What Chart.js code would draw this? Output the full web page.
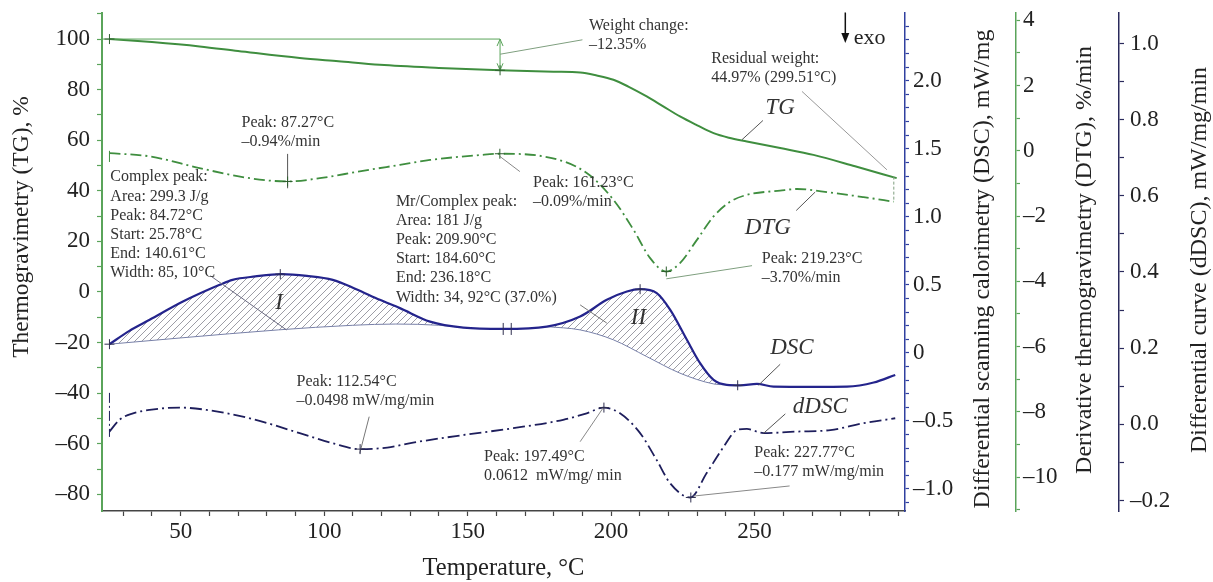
<!DOCTYPE html>
<html><head><meta charset="utf-8">
<script src="https://cdn.jsdelivr.net/npm/chart.js@4.4.1/dist/chart.umd.min.js"></script>
<style>html,body{margin:0;padding:0;background:#fff}#wrap{width:1213px;height:582px;position:relative}</style>
</head><body><div id="wrap"><canvas id="c"></canvas></div>
<script>
// ---- data ----
const tgT = [25.2, 40, 56.6, 70, 91.5, 105, 119.4, 140, 161.3, 180, 189.2, 195, 200.8, 206, 212.4, 218, 224, 230, 235.7, 241, 247.3, 258.9, 270.5, 285, 299.5];
const tgV = [100.0, 98.8, 97.1, 95.3, 92.5, 91.2, 89.8, 88.6, 87.65, 87.1, 86.8, 85.6, 83.9, 81.2, 77.3, 73.5, 69.4, 65.9, 62.8, 61.0, 59.5, 56.9, 54.2, 49.7, 45.0];

const dtgT = [25.2, 39.2, 56.6, 74.1, 87.3, 98.5, 112.4, 126.4, 136.9, 154.3, 161.2, 177.6, 191.5, 200.8, 207.8, 213.6, 219.2, 224.0, 229.9, 235.7, 241.5, 247.3, 258.9, 264.8, 276.4, 288.0, 298.5];
const dtgV = [-0.07, -0.17, -0.53, -0.84, -0.94, -0.84, -0.63, -0.43, -0.28, -0.13, -0.09, -0.19, -0.68, -1.50, -2.42, -3.29, -3.70, -3.44, -2.73, -2.01, -1.56, -1.35, -1.22, -1.17, -1.28, -1.42, -1.56];

const dscT = [25.2, 32, 39.2, 50.8, 63.6, 68.1, 76, 85.1, 94, 103.0, 111, 119.4, 126.4, 136.9, 148.5, 162.4, 177.6, 189.2, 198.5, 205.5, 210.1, 215.9, 220.6, 226.4, 231.0, 235.7, 240.3, 245.0, 250.8, 256.6, 270.5, 282.2, 291.5, 299.0];
const dscV = [0.064, 0.16, 0.243, 0.377, 0.500, 0.537, 0.562, 0.579, 0.566, 0.537, 0.47, 0.390, 0.329, 0.230, 0.186, 0.176, 0.193, 0.267, 0.390, 0.451, 0.468, 0.439, 0.316, 0.096, -0.076, -0.199, -0.235, -0.238, -0.228, -0.248, -0.250, -0.248, -0.218, -0.162];

const base1T = [25.2, 50, 84, 110, 125, 140, 148.5];
const base1V = [0.064, 0.11, 0.169, 0.203, 0.212, 0.203, 0.186];
const base2T = [177.6, 189.2, 200.8, 212.4, 224.0, 235.7, 240.3];
const base2V = [0.193, 0.169, 0.096, -0.027, -0.149, -0.228, -0.235];

const ddscT = [25.2, 28.7, 33.4, 39.2, 49.7, 59.0, 74.1, 91.5, 103.1, 112.4, 122, 131.0, 148.5, 165.9, 183.3, 191.5, 197.4, 203.1, 210.1, 215.9, 220.6, 227.6, 233.3, 239.2, 243.8, 247.3, 253.1, 264.8, 276.4, 288.0, 299.0];
const ddscV = [-0.019, 0.012, 0.029, 0.038, 0.044, 0.038, 0.016, -0.023, -0.050, -0.065, -0.061, -0.048, -0.028, -0.010, 0.012, 0.029, 0.044, 0.029, -0.023, -0.094, -0.155, -0.192, -0.128, -0.059, -0.015, -0.012, -0.023, -0.019, -0.015, 0.003, 0.016];

const xTicksLabelled = [50, 100, 150, 200, 250];

// ---- helpers ----
const serif = '"Liberation Serif","Times New Roman",serif';
const pts = (T, V) => T.map((t, i) => ({x: t, y: V[i]}));
const dash = s => String(s).replace('-', '\u2013');
const near = (v, step) => Math.abs(v / step - Math.round(v / step)) < 1e-6;

const cvs = document.getElementById('c');
function hatch() {
  const c = document.createElement('canvas'); c.width = 7; c.height = 7;
  const g = c.getContext('2d'); g.strokeStyle = '#72727f'; g.lineWidth = 0.7;
  g.beginPath(); g.moveTo(0, 7); g.lineTo(7, 0); g.moveTo(-1, 1); g.lineTo(1, -1); g.moveTo(6, 8); g.lineTo(8, 6); g.stroke();
  return cvs.getContext('2d').createPattern(c, 'repeat');
}
const pat = hatch();

const green = '#3f8e3f', axisGreen = '#5aa45a', navy = '#24248c', dnavy = '#1e1e5c';

// ---- annotations (positions in data units: x = °C, y = TG axis %) ----
const notes = [
  {T: 192.3, G: 105.3, lines: ['Weight change:', '\u201312.35%']},
  {T: 234.9, G: 92.3, lines: ['Residual weight:', '44.97% (299.51°C)']},
  {T: 71.2, G: 67.0, lines: ['Peak: 87.27°C', '\u20130.94%/min']},
  {T: 25.5, G: 45.4, lines: ['Complex peak:', 'Area: 299.3 J/g', 'Peak: 84.72°C', 'Start: 25.78°C', 'End: 140.61°C', 'Width: 85, 10°C']},
  {T: 172.8, G: 43.3, lines: ['Peak: 161.23°C', '\u20130.09%/min']},
  {T: 125.0, G: 35.8, lines: ['Mr/Complex peak:', 'Area: 181 J/g', 'Peak: 209.90°C', 'Start: 184.60°C', 'End: 236.18°C', 'Width: 34, 92°C (37.0%)']},
  {T: 252.5, G: 13.1, lines: ['Peak: 219.23°C', '\u20133.70%/min']},
  {T: 90.4, G: -35.4, lines: ['Peak: 112.54°C', '\u20130.0498 mW/mg/min']},
  {T: 155.7, G: -65.1, lines: ['Peak: 197.49°C', '0.0612  mW/mg/ min']},
  {T: 249.9, G: -63.5, lines: ['Peak: 227.77°C', '\u20130.177 mW/mg/min']}
];
const italics = [
  {T: 258.9, G: 72.7, text: 'TG'}, {T: 254.6, G: 25.2, text: 'DTG'},
  {T: 263.0, G: -22.2, text: 'DSC'}, {T: 272.9, G: -45.3, text: 'dDSC'},
  {T: 84.3, G: -4.2, text: 'I'}, {T: 209.5, G: -10.4, text: 'II'}
];
const leaders = [
  [161.3, 94.0, 190.0, 99.7, '#7f9f7f'], [266.5, 79.3, 296.1, 48.3, '#999'],
  [168.2, 47.6, 161.23, 53.6, '#888'], [249.1, 10.4, 219.23, 5.2, '#7f9f7f'],
  [245.6, 60.2, 252.9, 67.8, '#555'], [271.1, 39.5, 264.5, 32.2, '#555'],
  [60.4, 6.4, 86.9, -15.0, '#6a6a80'], [189.2, -5.1, 198.5, -12.3, '#777'],
  [251.4, -36.8, 258.9, -28.6, '#555'], [253.1, -55.9, 260.7, -48.2, '#555'],
  [115.7, -49.3, 112.4, -63.8, '#777'], [189.2, -59.2, 197.3, -45.7, '#888'],
  [228.7, -80.7, 262.2, -76.7, '#888'], [87.27, 54.6, 87.27, 41.0, '#555']
];
// crosses on curves: [T, axis, value]
const crosses = [
  [25.2, 'yTG', 100], [161.3, 'yTG', 87.65],
  [87.27, 'yDTG', -0.94], [161.23, 'yDTG', -0.09], [219.23, 'yDTG', -3.70],
  [25.2, 'yDSC', 0.064], [84.72, 'yDSC', 0.579], [210.1, 'yDSC', 0.468], [244.1, 'yDSC', -0.238],
  [112.54, 'ydDSC', -0.065], [197.49, 'ydDSC', 0.044], [227.77, 'ydDSC', -0.192]
];

const annot = {
  id: 'annot',
  afterDatasetsDraw(chart) {
    const ctx = chart.ctx, sx = chart.scales.x, sg = chart.scales.yTG;
    const X = t => sx.getPixelForValue(t), Y = g => sg.getPixelForValue(g);
    ctx.save();
    // weight change reference line + double arrow
    ctx.strokeStyle = '#5aa45a'; ctx.lineWidth = 1;
    ctx.beginPath(); ctx.moveTo(chart.chartArea.left, Y(100)); ctx.lineTo(X(161.3), Y(100)); ctx.stroke();
    const ax = X(161.3), a1 = Y(100), a2 = Y(87.65);
    ctx.beginPath(); ctx.moveTo(ax, a1); ctx.lineTo(ax, a2);
    ctx.moveTo(ax - 3, a1 + 7); ctx.lineTo(ax, a1); ctx.lineTo(ax + 3, a1 + 7);
    ctx.moveTo(ax - 3, a2 - 7); ctx.lineTo(ax, a2); ctx.lineTo(ax + 3, a2 - 7); ctx.stroke();
    // leaders
    ctx.lineWidth = 1;
    leaders.forEach(([t1, g1, t2, g2, c]) => { ctx.strokeStyle = c; ctx.beginPath(); ctx.moveTo(X(t1), Y(g1)); ctx.lineTo(X(t2), Y(g2)); ctx.stroke(); });
    // residual bracket
    ctx.strokeStyle = '#7f9f7f'; ctx.setLineDash([3, 2]);
    ctx.beginPath(); ctx.moveTo(X(298.5), Y(45.6)); ctx.lineTo(X(298.5), chart.scales.yDTG.getPixelForValue(-1.56)); ctx.stroke();
    // start ticks of DTG and dDSC
    ctx.setLineDash([]); ctx.strokeStyle = green;
    ctx.beginPath(); ctx.moveTo(X(25.2), Y(55.8)); ctx.lineTo(X(25.2), Y(51.4)); ctx.stroke();
    ctx.strokeStyle = dnavy; ctx.setLineDash([10, 3, 2, 3]);
    ctx.beginPath(); ctx.moveTo(X(25.2), Y(-39.9)); ctx.lineTo(X(25.2), Y(-57.3)); ctx.stroke();
    ctx.setLineDash([]);
    // crosses
    crosses.forEach(([t, id, v]) => {
      const px = X(t), py = chart.scales[id].getPixelForValue(v);
      ctx.strokeStyle = id === 'yTG' || id === 'yDTG' ? '#2f5f2f' : '#303050';
      ctx.beginPath(); ctx.moveTo(px - 5, py); ctx.lineTo(px + 5, py); ctx.moveTo(px, py - 5); ctx.lineTo(px, py + 5); ctx.stroke();
    });
    // DSC double tick at 162-165 °C
    [162.4, 165.2].forEach(t => { const px = X(t), py = chart.scales.yDSC.getPixelForValue(0.176); ctx.strokeStyle = '#303050'; ctx.beginPath(); ctx.moveTo(px, py - 6); ctx.lineTo(px, py + 6); ctx.stroke(); });
    // texts
    ctx.fillStyle = '#333'; ctx.font = '16px ' + serif; ctx.textAlign = 'left'; ctx.textBaseline = 'middle';
    notes.forEach(n => n.lines.forEach((l, i) => ctx.fillText(l, X(n.T), Y(n.G) + i * 19.2)));
    ctx.font = 'italic 23px ' + serif; ctx.textAlign = 'center'; ctx.fillStyle = '#333';
    italics.forEach(n => ctx.fillText(n.text, X(n.T), Y(n.G)));
    // exo arrow
    ctx.strokeStyle = '#111'; ctx.fillStyle = '#111'; ctx.lineWidth = 1.5;
    const ex = X(281.6), ey1 = Y(110.5), ey2 = Y(98.4);
    ctx.beginPath(); ctx.moveTo(ex, ey1); ctx.lineTo(ex, ey2 - 8); ctx.stroke();
    ctx.beginPath(); ctx.moveTo(ex - 4, ey2 - 10); ctx.lineTo(ex + 4, ey2 - 10); ctx.lineTo(ex, ey2); ctx.closePath(); ctx.fill();
    ctx.font = '22px ' + serif; ctx.textAlign = 'left'; ctx.fillStyle = '#222';
    ctx.fillText('exo', X(284.5), Y(100.4));
    ctx.restore();
  },
  afterDraw(chart) {
    const ctx = chart.ctx, ca = chart.chartArea;
    const vtitle = (x, y, txt, size) => {
      ctx.save(); ctx.translate(x, y); ctx.rotate(-Math.PI / 2);
      ctx.textAlign = 'center'; ctx.textBaseline = 'middle'; ctx.font = size + 'px ' + serif; ctx.fillStyle = '#222';
      ctx.fillText(txt, 0, 0); ctx.restore();
    };
    vtitle(chart.scales.yTG.left + 22, ca.top + 214, 'Thermogravimetry (TG), %', 23.5);
    vtitle(chart.scales.yDSC.left + 78, ca.top + 256, 'Differential scanning calorimetry (DSC), mW/mg', 24);
    vtitle(chart.scales.yDTG.left + 69, ca.top + 247, 'Derivative thermogravimetry (DTG), %/min', 24);
    vtitle(chart.scales.ydDSC.left + 81, ca.top + 247, 'Differential curve (dDSC), mW/mg/min', 24);
    ctx.save(); ctx.textAlign = 'center'; ctx.textBaseline = 'middle'; ctx.font = '24.5px ' + serif; ctx.fillStyle = '#222';
    ctx.fillText('Temperature, °C', (ca.left + ca.right) / 2, ca.bottom + 58); ctx.restore();
  }
};

const tickFont = {family: serif, size: 23};
const noPad = s => { s.paddingTop = 0; s.paddingBottom = 0; s.paddingLeft = 0; s.paddingRight = 0; };
function yAxis(pos, min, max, step, labelStep, color, width, fmt, tl, pad, weight) {
  return {
    type: 'linear', position: pos, min, max, weight,
    ticks: {stepSize: step, autoSkip: false, includeBounds: false, color: '#222', font: tickFont, padding: pad,
      callback: v => near(v, labelStep) ? fmt(v) : ''},
    grid: {drawOnChartArea: false, drawTicks: true, tickLength: tl, tickColor: color, tickWidth: 1.2, color},
    border: {color, width: pos === 'left' ? 2 : 1.5},
    afterFit: s => { s.width = width; noPad(s); }
  };
}

new Chart(cvs, {
  type: 'line',
  data: {
    datasets: [
      {label: 'TG', data: pts(tgT, tgV), yAxisID: 'yTG', borderColor: green, borderWidth: 2, cubicInterpolationMode: 'monotone', pointRadius: 0, order: 1},
      {label: 'DTG', data: pts(dtgT, dtgV), yAxisID: 'yDTG', borderColor: green, borderWidth: 1.8, borderDash: [11, 4, 2, 4], cubicInterpolationMode: 'monotone', pointRadius: 0, order: 1},
      {label: 'DSC', data: pts(dscT, dscV), yAxisID: 'yDSC', borderColor: navy, borderWidth: 2.2, cubicInterpolationMode: 'monotone', pointRadius: 0, order: 1},
      {label: 'base I', data: pts(base1T, base1V), yAxisID: 'yDSC', borderColor: '#7880a8', borderWidth: 1, cubicInterpolationMode: 'monotone', pointRadius: 0, fill: {target: 2, above: pat, below: pat}, order: 2},
      {label: 'base II', data: pts(base2T, base2V), yAxisID: 'yDSC', borderColor: '#7880a8', borderWidth: 1, cubicInterpolationMode: 'monotone', pointRadius: 0, fill: {target: 2, above: pat, below: pat}, order: 2},
      {label: 'dDSC', data: pts(ddscT, ddscV), yAxisID: 'ydDSC', borderColor: dnavy, borderWidth: 1.8, borderDash: [12, 4, 2, 4], cubicInterpolationMode: 'monotone', pointRadius: 0, order: 1}
    ]
  },
  options: {
    responsive: true, maintainAspectRatio: false, animation: false, events: [],
    layout: {padding: {top: 13, left: 0, right: 0, bottom: 0}},
    plugins: {legend: {display: false}, tooltip: {enabled: false}},
    scales: {
      x: {
        type: 'linear', position: 'bottom', min: 22.6, max: 302.4,
        ticks: {stepSize: 10, autoSkip: false, includeBounds: false, maxRotation: 0, padding: 2, color: '#222', font: tickFont,
          callback: v => xTicksLabelled.includes(Math.round(v)) && near(v, 50) ? String(Math.round(v)) : ''},
        grid: {drawOnChartArea: false, drawTicks: true, tickLength: 5, color: '#444', tickColor: '#444', tickWidth: 1.2},
        border: {color: '#444', width: 1.5},
        title: {display: false},
        afterFit: s => { s.height = 71; noPad(s); }
      },
      yTG: yAxis('left', -86.6, 110.3, 10, 20, axisGreen, 102, v => dash(v), 5, 7, 0),
      yDSC: yAxis('right', -1.162, 2.498, 0.1, 0.5, '#3040a0', 111, v => dash(Math.abs(v) < 1e-9 ? '0' : v.toFixed(1)), 4, 4, 1),
      yDTG: yAxis('right', -11.04, 4.224, 1, 2, axisGreen, 103, v => dash(Math.round(v)), 4, 3, 2),
      ydDSC: yAxis('right', -0.2275, 1.080, 0.1, 0.2, '#2a2a5c', 94, v => dash(Math.abs(v) < 1e-9 ? '0.0' : v.toFixed(1)), 5, 6, 3)
    }
  },
  plugins: [annot]
});
</script></body></html>
